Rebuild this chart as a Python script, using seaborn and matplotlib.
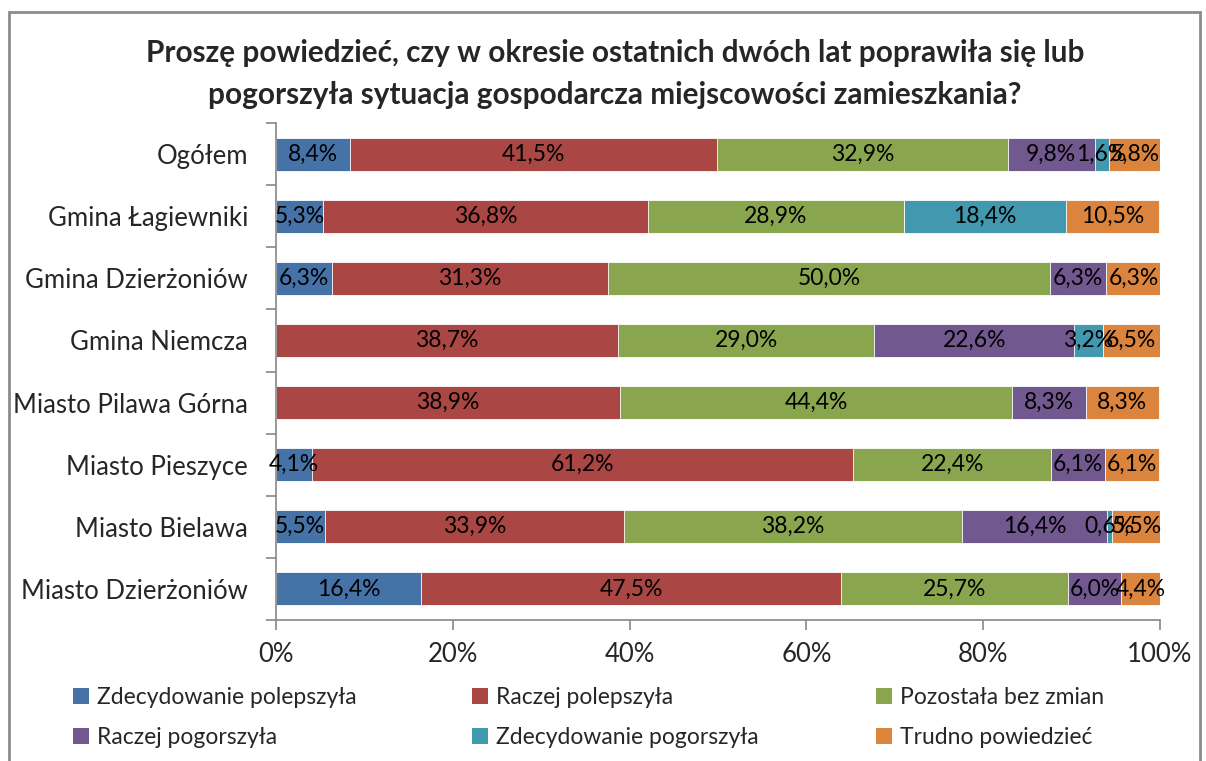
import numpy as np
import pandas as pd
import matplotlib
matplotlib.use("Agg")
import matplotlib.pyplot as plt
from matplotlib.patches import Patch, Rectangle
from matplotlib.ticker import FixedLocator
import seaborn as sns

categories = ["Ogółem", "Gmina Łagiewniki", "Gmina Dzierżoniów", "Gmina Niemcza",
              "Miasto Pilawa Górna", "Miasto Pieszyce", "Miasto Bielawa", "Miasto Dzierżoniów"]

series_names = ["Zdecydowanie polepszyła", "Raczej polepszyła", "Pozostała bez zmian",
                "Raczej pogorszyła", "Zdecydowanie pogorszyła", "Trudno powiedzieć"]

zdecydowanie_polepszyla = [8.4, 5.3, 6.3, 0.0, 0.0, 4.1, 5.5, 16.4]
raczej_polepszyla = [41.5, 36.8, 31.3, 38.7, 38.9, 61.2, 33.9, 47.5]
bez_zmian = [32.9, 28.9, 50.0, 29.0, 44.4, 22.4, 38.2, 25.7]
raczej_pogorszyla = [9.8, 0.0, 6.3, 22.6, 8.3, 6.1, 16.4, 6.0]
zdecydowanie_pogorszyla = [1.6, 18.4, 0.0, 3.2, 0.0, 0.0, 0.6, 0.0]
trudno_powiedziec = [5.8, 10.5, 6.3, 6.5, 8.3, 6.1, 5.5, 4.4]

colors = ["#4572A7", "#AA4643", "#89A54E", "#71588F", "#4198AF", "#DB843D"]

title = ("Proszę powiedzieć, czy w okresie ostatnich dwóch lat poprawiła się lub\n"
         "pogorszyła sytuacja gospodarcza miejscowości zamieszkania?")

sns.set_theme(style="white")
plt.rcParams["font.family"] = ["Lato", "DejaVu Sans"]

df = pd.DataFrame(
    [zdecydowanie_polepszyla, raczej_polepszyla, bez_zmian,
     raczej_pogorszyla, zdecydowanie_pogorszyla, trudno_powiedziec],
    index=series_names, columns=categories).T
cum = df.cumsum(axis=1)

fig = plt.figure(figsize=(12.06, 7.61), dpi=100)
ax = fig.add_axes([276 / 1206, 1 - 620 / 761, 884 / 1206, 497 / 761])

# draw cumulative bars from the last series to the first so they stack
for name, col in reversed(list(zip(series_names, colors))):
    plot_df = pd.DataFrame({"cat": categories, "val": cum[name].values})
    sns.barplot(data=plot_df, x="val", y="cat", orient="h", color=col,
                width=0.53, errorbar=None, saturation=1, ax=ax,
                edgecolor="white", linewidth=0.6)

# data labels
for i, cat in enumerate(categories):
    for name in series_names:
        v = df.loc[cat, name]
        if v <= 0:
            continue
        x = cum.loc[cat, name] - v / 2
        ax.text(x, i, f"{v:.1f}%".replace(".", ","), ha="center", va="center",
                fontsize=16.5, color="black")

ax.set_xlim(0, 100)
ax.set_ylim(len(categories) - 0.5, -0.5)
ax.set_xticks(np.arange(0, 101, 20))
ax.set_xticklabels([f"{t}%" for t in range(0, 101, 20)], fontsize=18.5)
ax.set_xlabel("")
ax.set_ylabel("")
ax.tick_params(axis="y", which="major", length=0, labelsize=18.5, pad=20)
ax.yaxis.set_minor_locator(FixedLocator(np.arange(-0.5, len(categories), 1)))
ax.tick_params(axis="y", which="minor", left=True, length=7, width=1.2, color="#888888")
ax.tick_params(axis="x", which="major", bottom=True, length=7, width=1.2,
               color="#888888", pad=9)
for s in ["top", "right"]:
    ax.spines[s].set_visible(False)
for s in ["left", "bottom"]:
    ax.spines[s].set_color("#888888")
    ax.spines[s].set_linewidth(1.2)
ax.grid(False)

fig.text(0.51, 1 - 74 / 761, title, ha="center", va="center", fontsize=21.4,
         fontweight="bold", linespacing=1.6)

# legend: three evenly spaced columns, two rows
handles = [Patch(facecolor=c, edgecolor="none") for c in colors]
col_x = [55, 454, 858]
for c in range(3):
    idx = [c, c + 3]
    fig.legend([handles[k] for k in idx], [series_names[k] for k in idx],
               ncol=1, loc="upper left", bbox_to_anchor=(col_x[c] / 1206, 1 - 669 / 761),
               frameon=False, fontsize=16.5, handlelength=0.7, handleheight=0.7,
               handletextpad=0.35, borderpad=0.3, labelspacing=0.8)

# page frame
fig.add_artist(Rectangle((9 / 1206, -0.05), (1200 - 9) / 1206, 1.05 - 12 / 761,
                         transform=fig.transFigure, fill=False,
                         edgecolor="#8c8c8c", linewidth=2))

fig.savefig("out.png", dpi=100)
